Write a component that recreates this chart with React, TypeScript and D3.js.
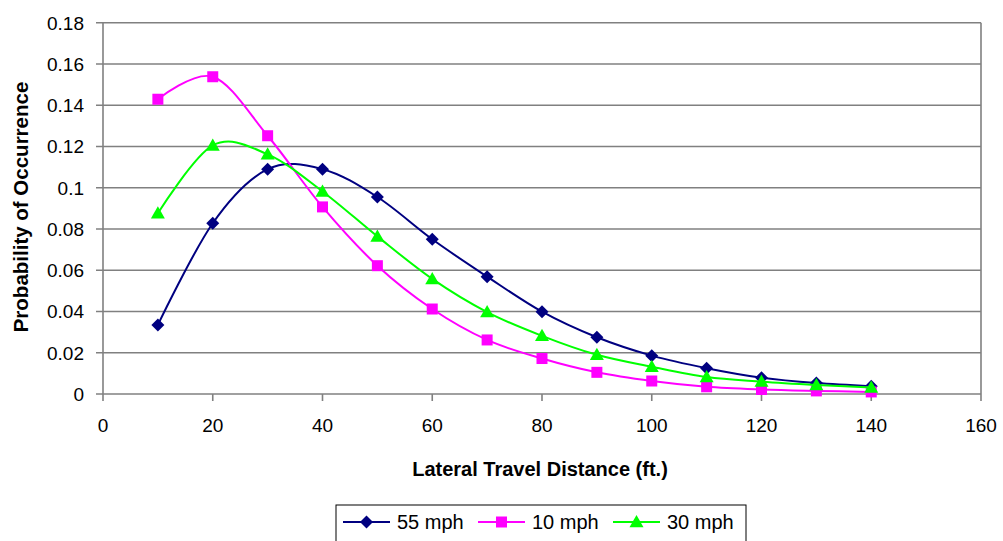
import React from "react";
import * as d3 from "d3";

const distances = [10, 20, 30, 40, 50, 60, 70, 80, 90, 100, 110, 120, 130, 140];
const mph55 = [0.0335, 0.0828, 0.109, 0.109, 0.0955, 0.075, 0.0569, 0.0399, 0.0275, 0.0186, 0.0125, 0.0079, 0.0053, 0.0038];
const mph10 = [0.1429, 0.1538, 0.1252, 0.0907, 0.0622, 0.0412, 0.0262, 0.0172, 0.0105, 0.0063, 0.0035, 0.0022, 0.0015, 0.001];
const mph30 = [0.0876, 0.1205, 0.1162, 0.0982, 0.0764, 0.0558, 0.0397, 0.0282, 0.019, 0.0132, 0.0082, 0.006, 0.0044, 0.0031];
const xTicks = [0, 20, 40, 60, 80, 100, 120, 140, 160];
const yTicks = [0, 0.02, 0.04, 0.06, 0.08, 0.1, 0.12, 0.14, 0.16, 0.18];
const seriesNames = ["55 mph", "10 mph", "30 mph"];

const W = 1003, H = 541;
const L = 103, R = 981, T = 22.7, B = 394;
const FONT = "'Liberation Sans', Arial, sans-serif";

function Marker({ kind, x, y, color }: { kind: string; x: number; y: number; color: string }) {
  if (kind === "diamond") {
    const s = 6.5;
    return <path d={`M${x},${y - s}L${x + s},${y}L${x},${y + s}L${x - s},${y}Z`} fill={color} />;
  }
  if (kind === "square") {
    const s = 5.5;
    return <rect x={x - s} y={y - s} width={2 * s} height={2 * s} fill={color} />;
  }
  const s = 7;
  return <path d={`M${x},${y - s}L${x + s},${y + s * 0.75}L${x - s},${y + s * 0.75}Z`} fill={color} />;
}

export default function App() {
  const x = d3.scaleLinear().domain([0, 160]).range([L, R]);
  const y = d3.scaleLinear().domain([0, 0.18]).range([B, T]);
  const line = d3
    .line<[number, number]>()
    .x((d) => x(d[0]))
    .y((d) => y(d[1]))
    .curve(d3.curveCardinal.tension(0));

  const series = [
    { name: seriesNames[0], values: mph55, color: "#000080", kind: "diamond" },
    { name: seriesNames[1], values: mph10, color: "#FF00FF", kind: "square" },
    { name: seriesNames[2], values: mph30, color: "#00FF00", kind: "triangle" },
  ];

  const grid = "#808080";
  const legendX = 336, legendY = 505;
  const itemX = [343, 478, 613];

  return (
    <svg width={W} height={H} style={{ position: "absolute", left: 0, top: 0, background: "#fff" }} fontFamily={FONT}>
      {yTicks.map((t) => (
        <g key={"y" + t}>
          <line x1={L - 7} x2={R} y1={y(t)} y2={y(t)} stroke={grid} strokeWidth={1.6} />
          <text x={84} y={y(t)} dy="0.36em" textAnchor="end" fontSize={19} fill="#000">
            {String(t)}
          </text>
        </g>
      ))}
      <line x1={L} x2={L} y1={T} y2={B} stroke={grid} strokeWidth={1.6} />
      <line x1={R} x2={R} y1={T} y2={B} stroke={grid} strokeWidth={1.6} />
      {xTicks.map((t) => (
        <g key={"x" + t}>
          <line x1={x(t)} x2={x(t)} y1={B} y2={B + 7} stroke={grid} strokeWidth={1.6} />
          <text x={x(t)} y={432} textAnchor="middle" fontSize={19} fill="#000">
            {String(t)}
          </text>
        </g>
      ))}
      {series.map((s) => (
        <g key={s.name}>
          <path
            d={line(distances.map((d, i) => [d, s.values[i]]) as [number, number][]) || ""}
            fill="none"
            stroke={s.color}
            strokeWidth={2}
          />
          {distances.map((d, i) => (
            <Marker key={i} kind={s.kind} x={x(d)} y={y(s.values[i])} color={s.color} />
          ))}
        </g>
      ))}
      <text x={540} y={476} textAnchor="middle" fontSize={20} fontWeight="bold">
        Lateral Travel Distance (ft.)
      </text>
      <text
        transform={`translate(28,${207}) rotate(-90)`}
        textAnchor="middle"
        fontSize={20.5}
        fontWeight="bold"
      >
        Probability of Occurrence
      </text>
      <rect x={legendX} y={legendY} width={410} height={50} fill="#fff" stroke="#000" strokeWidth={1} />
      {series.map((s, i) => (
        <g key={"lg" + i}>
          <line x1={itemX[i]} x2={itemX[i] + 47} y1={522} y2={522} stroke={s.color} strokeWidth={2} />
          <Marker kind={s.kind} x={itemX[i] + 23.5} y={522} color={s.color} />
          <text x={itemX[i] + 54} y={529} fontSize={20}>
            {s.name}
          </text>
        </g>
      ))}
    </svg>
  );
}
